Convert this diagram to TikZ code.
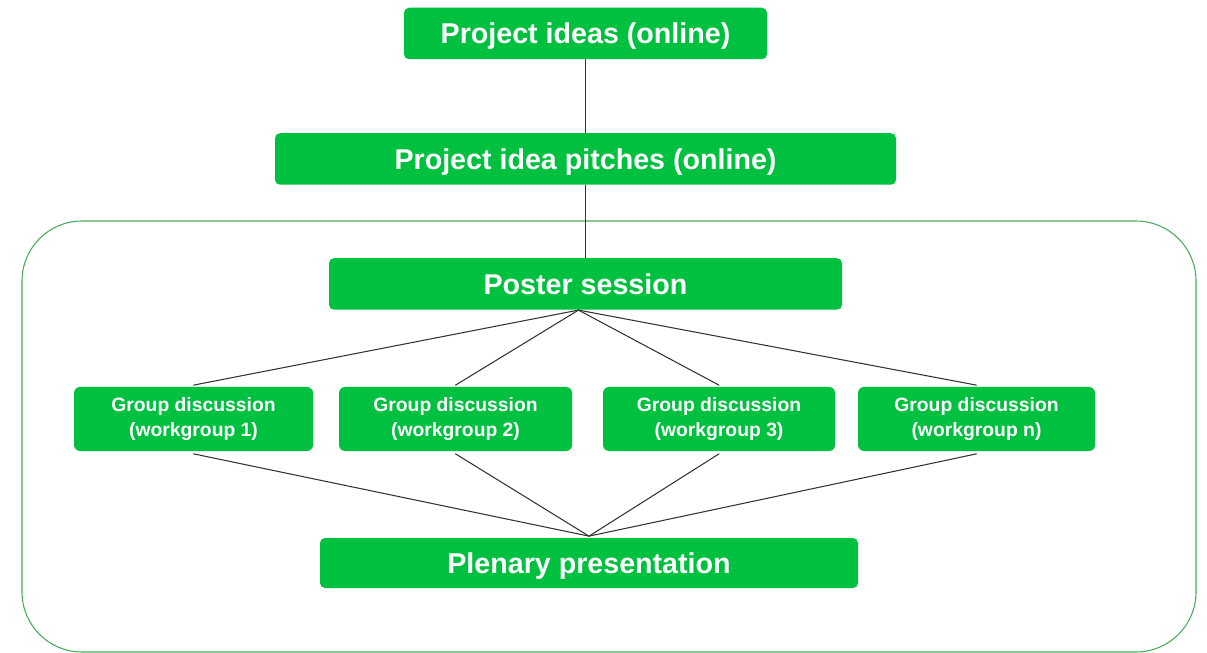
\documentclass[tikz,border=0pt]{standalone}
\usepackage{fontspec}
\setsansfont{Liberation Sans}
\usepackage{tikz}
\definecolor{boxgreen}{RGB}{0,193,63}
\definecolor{framegreen}{RGB}{70,170,90}

\begin{document}
\begin{tikzpicture}[line cap=round,line join=round,x=1.0cm,y=1.0cm,
  bigbox/.style={fill=boxgreen,rounded corners=0.1cm,text=white,inner sep=0pt,
    font=\sffamily\bfseries\fontsize{16.3}{18}\selectfont,minimum height=1.03cm,
    text height=11.9pt,text depth=0pt},
  groupbox/.style={fill=boxgreen,rounded corners=0.12cm,text=white,inner sep=0pt,
    align=center,font=\sffamily\bfseries\fontsize{11}{14.2}\selectfont,minimum height=1.28cm},
  link/.style={color=black!80,line width=0.6pt}]
\useasboundingbox (0,0) rectangle (24.14,-13.06);
\draw[color=framegreen,line width=0.6pt,rounded corners=1.2cm] (0.44,-4.42) rectangle (23.92,-13.04);
\node[bigbox,minimum width=7.26cm] (ideas) at (11.71,-0.67) {Project ideas (online)};
\node[bigbox,minimum width=12.42cm] (pitches) at (11.71,-3.18) {Project idea pitches (online)};
\node[bigbox,minimum width=10.26cm] (poster) at (11.71,-5.68) {Poster session};
\node[groupbox,minimum width=4.78cm] (group1) at (3.87,-8.38) {Group discussion\\(workgroup 1)};
\node[groupbox,minimum width=4.66cm] (group2) at (9.11,-8.38) {Group discussion\\(workgroup 2)};
\node[groupbox,minimum width=4.64cm] (group3) at (14.38,-8.38) {Group discussion\\(workgroup 3)};
\node[groupbox,minimum width=4.74cm] (groupn) at (19.53,-8.38) {Group discussion\\(workgroup n)};
\node[bigbox,minimum width=10.76cm,minimum height=1.0cm] (plenary) at (11.78,-11.26) {Plenary presentation};
\draw[link] (ideas.south) -- (pitches.north);
\draw[link] (pitches.south) -- (poster.north);
\foreach \g in {group1,group2,group3,groupn}
{
\draw[link] ([xshift=-0.14cm]poster.south) -- ([yshift=0.03cm]\g.north);
\draw[link] ([yshift=-0.05cm]\g.south) -- ([yshift=0.03cm]plenary.north);
}
\end{tikzpicture}
\end{document}
